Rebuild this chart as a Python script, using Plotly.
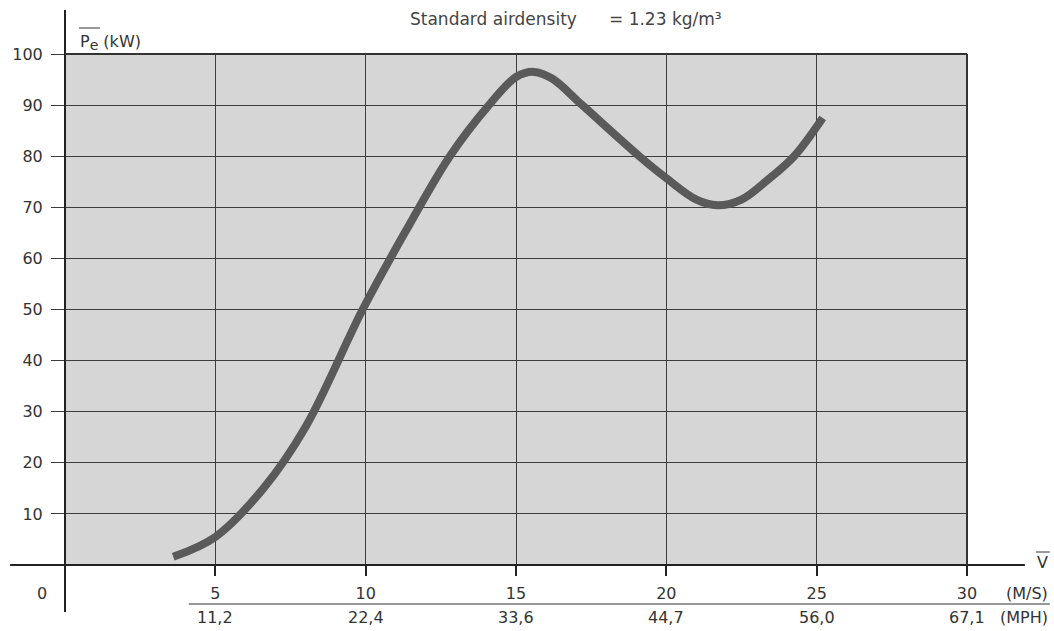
import plotly.graph_objects as go

# ---- data ----
speed_ms = [3.6, 5.0, 6.6, 8.0, 9.9, 11.3, 12.8, 14.1, 15.0, 15.6, 16.2,
            17.2, 19.1, 20.0, 21.0, 21.7, 22.5, 23.4, 24.25, 25.2]
power_kw = [1.6, 5.5, 15, 27, 50, 65, 80, 90, 95.5, 96.5, 95.2,
            90, 80, 75.7, 71.5, 70.4, 71.5, 75.5, 80, 87.5]

ms_ticks = [5, 10, 15, 20, 25, 30]
mph_labels = ["11,2", "22,4", "33,6", "44,7", "56,0", "67,1"]
kw_ticks = [10, 20, 30, 40, 50, 60, 70, 80, 90, 100]

W, H = 1054, 631
L, R, T, B = 63, 967, 54, 565  # plot area in pixels


def px(xp):
    return (xp - L) / (R - L)


def py(yp):
    return (B - yp) / (B - T)


FONT = "DejaVu Sans, Liberation Sans, Arial"
TXT = "#333333"
GRID = "#3c3c3c"

fig = go.Figure()
fig.add_trace(go.Scatter(
    x=speed_ms, y=power_kw, mode="lines",
    line=dict(color="#5a5a5a", width=8, shape="spline", smoothing=1.0),
    hoverinfo="x+y", showlegend=False,
))

fig.update_layout(
    width=W, height=H,
    margin=dict(l=L, r=W - R, t=T, b=H - B),
    paper_bgcolor="white",
    plot_bgcolor="#d6d6d6",
    font=dict(family=FONT, size=16, color=TXT),
    xaxis=dict(range=[0, 30], tickvals=ms_ticks, ticktext=[str(v) for v in ms_ticks],
               showgrid=True, gridcolor=GRID, gridwidth=1, zeroline=False,
               ticks="outside", ticklen=10, tickcolor="#222", tickwidth=2,
               ticklabelstandoff=4, showline=False, fixedrange=True),
    yaxis=dict(range=[0, 100], tickvals=kw_ticks,
               showgrid=True, gridcolor=GRID, gridwidth=1, zeroline=False,
               ticks="outside", ticklen=13, tickcolor=GRID, tickwidth=1,
               ticklabelstandoff=5, showline=False, fixedrange=True),
)

shapes = [
    # left vertical axis line (extends beyond plot area)
    dict(type="line", xref="paper", yref="paper", x0=0, x1=0, y0=py(612), y1=py(10),
         line=dict(color="#222", width=2)),
    # bottom horizontal axis line
    dict(type="line", xref="paper", yref="paper", x0=px(8), x1=px(1025), y0=0, y1=0,
         line=dict(color="#222", width=2)),
    # top & right border of grey field
    dict(type="line", xref="paper", yref="paper", x0=0, x1=1, y0=1, y1=1,
         line=dict(color="#333", width=2)),
    dict(type="line", xref="paper", yref="paper", x0=1, x1=1, y0=0, y1=1,
         line=dict(color="#333", width=2)),
    # rule between m/s and mph labels
    dict(type="line", xref="paper", yref="paper", x0=px(187), x1=px(1050), y0=py(604), y1=py(604),
         line=dict(color="#333", width=1)),
    # overline above Pe
    dict(type="line", xref="paper", yref="paper", x0=px(77), x1=px(98), y0=py(28), y1=py(28),
         line=dict(color="#333", width=1)),
    # overline above V
    dict(type="line", xref="paper", yref="paper", x0=px(1036), x1=px(1050), y0=py(552), y1=py(552),
         line=dict(color="#333", width=1)),
]
fig.update_layout(shapes=shapes)

ann = []
for v, lab in zip(ms_ticks, mph_labels):
    ann.append(dict(x=v, xref="x", y=py(617), yref="paper", text=lab, showarrow=False,
                    xanchor="center", yanchor="middle", font=dict(size=16, color=TXT)))
ann += [
    dict(x=px(40), y=py(593), xref="paper", yref="paper", text="0", showarrow=False,
         xanchor="center", yanchor="middle", font=dict(size=16, color=TXT)),
    dict(x=px(1050), y=py(593), xref="paper", yref="paper", text="(M/S)", showarrow=False,
         xanchor="right", yanchor="middle", font=dict(size=16, color=TXT)),
    dict(x=px(1050), y=py(617), xref="paper", yref="paper", text="(MPH)", showarrow=False,
         xanchor="right", yanchor="middle", font=dict(size=16, color=TXT)),
    dict(x=px(1043), y=py(562), xref="paper", yref="paper", text="V", showarrow=False,
         xanchor="center", yanchor="middle", font=dict(size=16, color=TXT)),
    dict(x=px(76), y=py(42), xref="paper", yref="paper",
         text="P<sub><span style='font-size:14px'>e</span></sub> (kW)", showarrow=False,
         xanchor="left", yanchor="middle", font=dict(size=16, color=TXT)),
    dict(x=px(407), y=py(19), xref="paper", yref="paper", text="Standard airdensity",
         showarrow=False, xanchor="left", yanchor="middle", font=dict(size=17, color="#444")),
    dict(x=px(606), y=py(19), xref="paper", yref="paper", text="= 1.23 kg/m³",
         showarrow=False, xanchor="left", yanchor="middle", font=dict(size=17, color="#444")),
]
fig.update_layout(annotations=ann)

fig.write_html("out.html", config={"displayModeBar": False},
               post_script="document.body.style.margin='0px';")
